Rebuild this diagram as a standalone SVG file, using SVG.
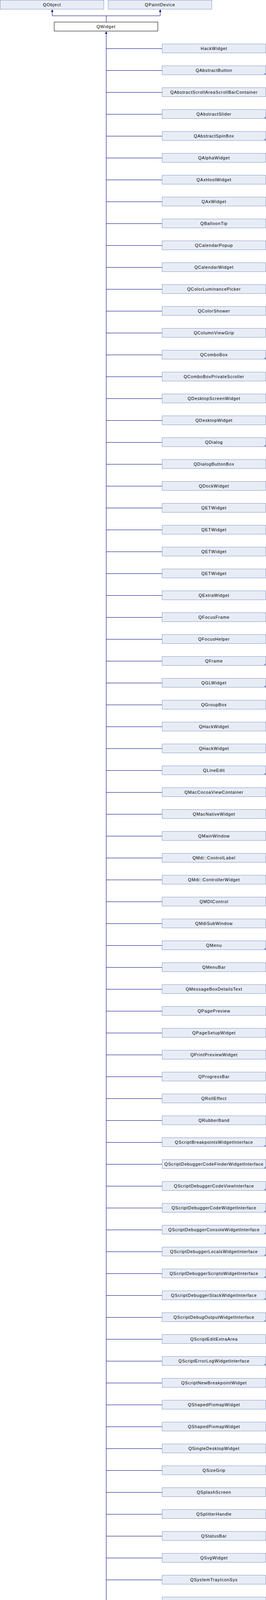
<svg xmlns="http://www.w3.org/2000/svg" xmlns:xlink="http://www.w3.org/1999/xlink" width="680" height="5064" viewBox="0 0 680 5064">
<style>
.box rect{fill:#E8ECF5;stroke:#849BCB;stroke-width:1}
.cur rect{fill:#FFFFFF;stroke:#000000;stroke-width:1}
text{font-family:"Liberation Sans",Arial,sans-serif;font-size:11px;letter-spacing:0.85px;fill:#000000;text-anchor:middle}
.c line,.c path{stroke:#000080;stroke-width:1;fill:none}
.c line.priv{stroke:#990000;stroke-dasharray:2,2}
.arr{fill:#000080}
.more{fill:#849BCB}
</style>
<defs>
<path id="arrow" class="arr" d="M0,0 L-3,6.5 L3,6.5 Z"/>
<path id="corner" class="more" d="M265.5,23.5 L259.5,23.5 L265.5,17.5 Z"/>
</defs>
<g id="connectors" class="c">
<path d="M271.5,56 V40.5 M133.5,40.5 H409.5 M133.5,40.5 V29 M409.5,40.5 V29"/>
<use xlink:href="#arrow" x="133.5" y="24"/>
<use xlink:href="#arrow" x="409.5" y="24"/>
<line x1="271.5" y1="85" x2="271.5" y2="5053"/>
<use xlink:href="#arrow" x="271.5" y="80"/>
<line x1="271.5" y1="124.5" x2="414" y2="124.5"/>
<line x1="271.5" y1="180.5" x2="414" y2="180.5"/>
<line x1="271.5" y1="236.5" x2="414" y2="236.5"/>
<line x1="271.5" y1="292.5" x2="414" y2="292.5"/>
<line x1="271.5" y1="348.5" x2="414" y2="348.5"/>
<line x1="271.5" y1="404.5" x2="414" y2="404.5"/>
<line x1="271.5" y1="460.5" x2="414" y2="460.5"/>
<line x1="271.5" y1="516.5" x2="414" y2="516.5"/>
<line x1="271.5" y1="572.5" x2="414" y2="572.5"/>
<line x1="271.5" y1="628.5" x2="414" y2="628.5"/>
<line x1="271.5" y1="684.5" x2="414" y2="684.5"/>
<line x1="271.5" y1="740.5" x2="414" y2="740.5"/>
<line x1="271.5" y1="796.5" x2="414" y2="796.5"/>
<line x1="271.5" y1="852.5" x2="414" y2="852.5"/>
<line x1="271.5" y1="908.5" x2="414" y2="908.5"/>
<line x1="271.5" y1="964.5" x2="414" y2="964.5"/>
<line x1="271.5" y1="1020.5" x2="414" y2="1020.5"/>
<line x1="271.5" y1="1076.5" x2="414" y2="1076.5"/>
<line x1="271.5" y1="1132.5" x2="414" y2="1132.5"/>
<line x1="271.5" y1="1188.5" x2="414" y2="1188.5"/>
<line x1="271.5" y1="1244.5" x2="414" y2="1244.5"/>
<line x1="271.5" y1="1300.5" x2="414" y2="1300.5"/>
<line x1="271.5" y1="1356.5" x2="414" y2="1356.5"/>
<line x1="271.5" y1="1412.5" x2="414" y2="1412.5"/>
<line x1="271.5" y1="1468.5" x2="414" y2="1468.5"/>
<line x1="271.5" y1="1524.5" x2="414" y2="1524.5"/>
<line x1="271.5" y1="1580.5" x2="414" y2="1580.5"/>
<line x1="271.5" y1="1636.5" x2="414" y2="1636.5"/>
<line x1="271.5" y1="1692.5" x2="414" y2="1692.5"/>
<line x1="271.5" y1="1748.5" x2="414" y2="1748.5"/>
<line x1="271.5" y1="1804.5" x2="414" y2="1804.5"/>
<line x1="271.5" y1="1860.5" x2="414" y2="1860.5"/>
<line x1="271.5" y1="1916.5" x2="414" y2="1916.5"/>
<line x1="271.5" y1="1972.5" x2="414" y2="1972.5"/>
<line x1="271.5" y1="2028.5" x2="414" y2="2028.5"/>
<line x1="271.5" y1="2084.5" x2="414" y2="2084.5"/>
<line x1="271.5" y1="2140.5" x2="414" y2="2140.5"/>
<line x1="271.5" y1="2196.5" x2="414" y2="2196.5"/>
<line x1="271.5" y1="2252.5" x2="414" y2="2252.5"/>
<line x1="271.5" y1="2308.5" x2="414" y2="2308.5"/>
<line x1="271.5" y1="2364.5" x2="414" y2="2364.5"/>
<line x1="271.5" y1="2420.5" x2="414" y2="2420.5"/>
<line x1="271.5" y1="2476.5" x2="414" y2="2476.5"/>
<line x1="271.5" y1="2532.5" x2="414" y2="2532.5"/>
<line x1="271.5" y1="2588.5" x2="414" y2="2588.5"/>
<line x1="271.5" y1="2644.5" x2="414" y2="2644.5"/>
<line x1="271.5" y1="2700.5" x2="414" y2="2700.5"/>
<line x1="271.5" y1="2756.5" x2="414" y2="2756.5"/>
<line x1="271.5" y1="2812.5" x2="414" y2="2812.5"/>
<line x1="271.5" y1="2868.5" x2="414" y2="2868.5"/>
<line x1="271.5" y1="2924.5" x2="414" y2="2924.5"/>
<line x1="271.5" y1="2980.5" x2="414" y2="2980.5"/>
<line x1="271.5" y1="3036.5" x2="414" y2="3036.5"/>
<line x1="271.5" y1="3092.5" x2="414" y2="3092.5"/>
<line x1="271.5" y1="3148.5" x2="414" y2="3148.5"/>
<line x1="271.5" y1="3204.5" x2="414" y2="3204.5"/>
<line x1="271.5" y1="3260.5" x2="414" y2="3260.5"/>
<line x1="271.5" y1="3316.5" x2="414" y2="3316.5"/>
<line x1="271.5" y1="3372.5" x2="414" y2="3372.5"/>
<line x1="271.5" y1="3428.5" x2="414" y2="3428.5"/>
<line x1="271.5" y1="3484.5" x2="414" y2="3484.5"/>
<line x1="271.5" y1="3540.5" x2="414" y2="3540.5"/>
<line x1="271.5" y1="3596.5" x2="414" y2="3596.5"/>
<line x1="271.5" y1="3652.5" x2="414" y2="3652.5"/>
<line x1="271.5" y1="3708.5" x2="414" y2="3708.5"/>
<line x1="271.5" y1="3764.5" x2="414" y2="3764.5"/>
<line x1="271.5" y1="3820.5" x2="414" y2="3820.5"/>
<line x1="271.5" y1="3876.5" x2="414" y2="3876.5"/>
<line x1="271.5" y1="3932.5" x2="414" y2="3932.5"/>
<line x1="271.5" y1="3988.5" x2="414" y2="3988.5"/>
<line x1="271.5" y1="4044.5" x2="414" y2="4044.5"/>
<line class="priv" x1="272" y1="4100.5" x2="414" y2="4100.5"/>
<line class="priv" x1="272" y1="4156.5" x2="414" y2="4156.5"/>
<line x1="271.5" y1="4212.5" x2="414" y2="4212.5"/>
<line x1="271.5" y1="4268.5" x2="414" y2="4268.5"/>
<line x1="271.5" y1="4324.5" x2="414" y2="4324.5"/>
<line x1="271.5" y1="4380.5" x2="414" y2="4380.5"/>
<line x1="271.5" y1="4436.5" x2="414" y2="4436.5"/>
<line x1="271.5" y1="4492.5" x2="414" y2="4492.5"/>
<line x1="271.5" y1="4548.5" x2="414" y2="4548.5"/>
<line x1="271.5" y1="4604.5" x2="414" y2="4604.5"/>
<line x1="271.5" y1="4660.5" x2="414" y2="4660.5"/>
<line x1="271.5" y1="4716.5" x2="414" y2="4716.5"/>
<line x1="271.5" y1="4772.5" x2="414" y2="4772.5"/>
<line x1="271.5" y1="4828.5" x2="414" y2="4828.5"/>
<line x1="271.5" y1="4884.5" x2="414" y2="4884.5"/>
<line x1="271.5" y1="4940.5" x2="414" y2="4940.5"/>
<line x1="271.5" y1="4996.5" x2="414" y2="4996.5"/>
<line x1="271" y1="5052.5" x2="414" y2="5052.5"/>
</g>
<g id="QObject" class="box" transform="translate(0,0)"><rect x="0.5" y="0.5" width="265" height="23"/><text x="133" y="16">QObject</text></g>
<g id="QPaintDevice" class="box" transform="translate(276,0)"><rect x="0.5" y="0.5" width="265" height="23"/><text x="133" y="16">QPaintDevice</text></g>
<g id="QWidget" class="cur" transform="translate(138,56)"><rect x="0.5" y="0.5" width="265" height="23"/><text x="133" y="16">QWidget</text></g>
<g id="n0" class="box" transform="translate(414,112)"><rect x="0.5" y="0.5" width="265" height="23"/><text x="133" y="16">HackWidget</text></g>
<g id="n1" class="box" transform="translate(414,168)"><rect x="0.5" y="0.5" width="265" height="23"/><use xlink:href="#corner"/><text x="133" y="16">QAbstractButton</text></g>
<g id="n2" class="box" transform="translate(414,224)"><rect x="0.5" y="0.5" width="265" height="23"/><text x="133" y="16">QAbstractScrollAreaScrollBarContainer</text></g>
<g id="n3" class="box" transform="translate(414,280)"><rect x="0.5" y="0.5" width="265" height="23"/><use xlink:href="#corner"/><text x="133" y="16">QAbstractSlider</text></g>
<g id="n4" class="box" transform="translate(414,336)"><rect x="0.5" y="0.5" width="265" height="23"/><use xlink:href="#corner"/><text x="133" y="16">QAbstractSpinBox</text></g>
<g id="n5" class="box" transform="translate(414,392)"><rect x="0.5" y="0.5" width="265" height="23"/><text x="133" y="16">QAlphaWidget</text></g>
<g id="n6" class="box" transform="translate(414,448)"><rect x="0.5" y="0.5" width="265" height="23"/><text x="133" y="16">QAxHostWidget</text></g>
<g id="n7" class="box" transform="translate(414,504)"><rect x="0.5" y="0.5" width="265" height="23"/><text x="133" y="16">QAxWidget</text></g>
<g id="n8" class="box" transform="translate(414,560)"><rect x="0.5" y="0.5" width="265" height="23"/><text x="133" y="16">QBalloonTip</text></g>
<g id="n9" class="box" transform="translate(414,616)"><rect x="0.5" y="0.5" width="265" height="23"/><text x="133" y="16">QCalendarPopup</text></g>
<g id="n10" class="box" transform="translate(414,672)"><rect x="0.5" y="0.5" width="265" height="23"/><text x="133" y="16">QCalendarWidget</text></g>
<g id="n11" class="box" transform="translate(414,728)"><rect x="0.5" y="0.5" width="265" height="23"/><text x="133" y="16">QColorLuminancePicker</text></g>
<g id="n12" class="box" transform="translate(414,784)"><rect x="0.5" y="0.5" width="265" height="23"/><text x="133" y="16">QColorShower</text></g>
<g id="n13" class="box" transform="translate(414,840)"><rect x="0.5" y="0.5" width="265" height="23"/><text x="133" y="16">QColumnViewGrip</text></g>
<g id="n14" class="box" transform="translate(414,896)"><rect x="0.5" y="0.5" width="265" height="23"/><use xlink:href="#corner"/><text x="133" y="16">QComboBox</text></g>
<g id="n15" class="box" transform="translate(414,952)"><rect x="0.5" y="0.5" width="265" height="23"/><text x="133" y="16">QComboBoxPrivateScroller</text></g>
<g id="n16" class="box" transform="translate(414,1008)"><rect x="0.5" y="0.5" width="265" height="23"/><text x="133" y="16">QDesktopScreenWidget</text></g>
<g id="n17" class="box" transform="translate(414,1064)"><rect x="0.5" y="0.5" width="265" height="23"/><text x="133" y="16">QDesktopWidget</text></g>
<g id="n18" class="box" transform="translate(414,1120)"><rect x="0.5" y="0.5" width="265" height="23"/><use xlink:href="#corner"/><text x="133" y="16">QDialog</text></g>
<g id="n19" class="box" transform="translate(414,1176)"><rect x="0.5" y="0.5" width="265" height="23"/><text x="133" y="16">QDialogButtonBox</text></g>
<g id="n20" class="box" transform="translate(414,1232)"><rect x="0.5" y="0.5" width="265" height="23"/><text x="133" y="16">QDockWidget</text></g>
<g id="n21" class="box" transform="translate(414,1288)"><rect x="0.5" y="0.5" width="265" height="23"/><text x="133" y="16">QETWidget</text></g>
<g id="n22" class="box" transform="translate(414,1344)"><rect x="0.5" y="0.5" width="265" height="23"/><text x="133" y="16">QETWidget</text></g>
<g id="n23" class="box" transform="translate(414,1400)"><rect x="0.5" y="0.5" width="265" height="23"/><text x="133" y="16">QETWidget</text></g>
<g id="n24" class="box" transform="translate(414,1456)"><rect x="0.5" y="0.5" width="265" height="23"/><text x="133" y="16">QETWidget</text></g>
<g id="n25" class="box" transform="translate(414,1512)"><rect x="0.5" y="0.5" width="265" height="23"/><text x="133" y="16">QExtraWidget</text></g>
<g id="n26" class="box" transform="translate(414,1568)"><rect x="0.5" y="0.5" width="265" height="23"/><text x="133" y="16">QFocusFrame</text></g>
<g id="n27" class="box" transform="translate(414,1624)"><rect x="0.5" y="0.5" width="265" height="23"/><text x="133" y="16">QFocusHelper</text></g>
<g id="n28" class="box" transform="translate(414,1680)"><rect x="0.5" y="0.5" width="265" height="23"/><use xlink:href="#corner"/><text x="133" y="16">QFrame</text></g>
<g id="n29" class="box" transform="translate(414,1736)"><rect x="0.5" y="0.5" width="265" height="23"/><use xlink:href="#corner"/><text x="133" y="16">QGLWidget</text></g>
<g id="n30" class="box" transform="translate(414,1792)"><rect x="0.5" y="0.5" width="265" height="23"/><text x="133" y="16">QGroupBox</text></g>
<g id="n31" class="box" transform="translate(414,1848)"><rect x="0.5" y="0.5" width="265" height="23"/><text x="133" y="16">QHackWidget</text></g>
<g id="n32" class="box" transform="translate(414,1904)"><rect x="0.5" y="0.5" width="265" height="23"/><text x="133" y="16">QHackWidget</text></g>
<g id="n33" class="box" transform="translate(414,1960)"><rect x="0.5" y="0.5" width="265" height="23"/><use xlink:href="#corner"/><text x="133" y="16">QLineEdit</text></g>
<g id="n34" class="box" transform="translate(414,2016)"><rect x="0.5" y="0.5" width="265" height="23"/><text x="133" y="16">QMacCocoaViewContainer</text></g>
<g id="n35" class="box" transform="translate(414,2072)"><rect x="0.5" y="0.5" width="265" height="23"/><text x="133" y="16">QMacNativeWidget</text></g>
<g id="n36" class="box" transform="translate(414,2128)"><rect x="0.5" y="0.5" width="265" height="23"/><text x="133" y="16">QMainWindow</text></g>
<g id="n37" class="box" transform="translate(414,2184)"><rect x="0.5" y="0.5" width="265" height="23"/><text x="133" y="16">QMdi::ControlLabel</text></g>
<g id="n38" class="box" transform="translate(414,2240)"><rect x="0.5" y="0.5" width="265" height="23"/><text x="133" y="16">QMdi::ControllerWidget</text></g>
<g id="n39" class="box" transform="translate(414,2296)"><rect x="0.5" y="0.5" width="265" height="23"/><text x="133" y="16">QMDIControl</text></g>
<g id="n40" class="box" transform="translate(414,2352)"><rect x="0.5" y="0.5" width="265" height="23"/><text x="133" y="16">QMdiSubWindow</text></g>
<g id="n41" class="box" transform="translate(414,2408)"><rect x="0.5" y="0.5" width="265" height="23"/><use xlink:href="#corner"/><text x="133" y="16">QMenu</text></g>
<g id="n42" class="box" transform="translate(414,2464)"><rect x="0.5" y="0.5" width="265" height="23"/><text x="133" y="16">QMenuBar</text></g>
<g id="n43" class="box" transform="translate(414,2520)"><rect x="0.5" y="0.5" width="265" height="23"/><text x="133" y="16">QMessageBoxDetailsText</text></g>
<g id="n44" class="box" transform="translate(414,2576)"><rect x="0.5" y="0.5" width="265" height="23"/><text x="133" y="16">QPagePreview</text></g>
<g id="n45" class="box" transform="translate(414,2632)"><rect x="0.5" y="0.5" width="265" height="23"/><text x="133" y="16">QPageSetupWidget</text></g>
<g id="n46" class="box" transform="translate(414,2688)"><rect x="0.5" y="0.5" width="265" height="23"/><text x="133" y="16">QPrintPreviewWidget</text></g>
<g id="n47" class="box" transform="translate(414,2744)"><rect x="0.5" y="0.5" width="265" height="23"/><text x="133" y="16">QProgressBar</text></g>
<g id="n48" class="box" transform="translate(414,2800)"><rect x="0.5" y="0.5" width="265" height="23"/><text x="133" y="16">QRollEffect</text></g>
<g id="n49" class="box" transform="translate(414,2856)"><rect x="0.5" y="0.5" width="265" height="23"/><text x="133" y="16">QRubberBand</text></g>
<g id="n50" class="box" transform="translate(414,2912)"><rect x="0.5" y="0.5" width="265" height="23"/><use xlink:href="#corner"/><text x="133" y="16">QScriptBreakpointsWidgetInterface</text></g>
<g id="n51" class="box" transform="translate(414,2968)"><rect x="0.5" y="0.5" width="265" height="23"/><use xlink:href="#corner"/><text x="133" y="16">QScriptDebuggerCodeFinderWidgetInterface</text></g>
<g id="n52" class="box" transform="translate(414,3024)"><rect x="0.5" y="0.5" width="265" height="23"/><use xlink:href="#corner"/><text x="133" y="16">QScriptDebuggerCodeViewInterface</text></g>
<g id="n53" class="box" transform="translate(414,3080)"><rect x="0.5" y="0.5" width="265" height="23"/><use xlink:href="#corner"/><text x="133" y="16">QScriptDebuggerCodeWidgetInterface</text></g>
<g id="n54" class="box" transform="translate(414,3136)"><rect x="0.5" y="0.5" width="265" height="23"/><use xlink:href="#corner"/><text x="133" y="16">QScriptDebuggerConsoleWidgetInterface</text></g>
<g id="n55" class="box" transform="translate(414,3192)"><rect x="0.5" y="0.5" width="265" height="23"/><use xlink:href="#corner"/><text x="133" y="16">QScriptDebuggerLocalsWidgetInterface</text></g>
<g id="n56" class="box" transform="translate(414,3248)"><rect x="0.5" y="0.5" width="265" height="23"/><use xlink:href="#corner"/><text x="133" y="16">QScriptDebuggerScriptsWidgetInterface</text></g>
<g id="n57" class="box" transform="translate(414,3304)"><rect x="0.5" y="0.5" width="265" height="23"/><use xlink:href="#corner"/><text x="133" y="16">QScriptDebuggerStackWidgetInterface</text></g>
<g id="n58" class="box" transform="translate(414,3360)"><rect x="0.5" y="0.5" width="265" height="23"/><use xlink:href="#corner"/><text x="133" y="16">QScriptDebugOutputWidgetInterface</text></g>
<g id="n59" class="box" transform="translate(414,3416)"><rect x="0.5" y="0.5" width="265" height="23"/><text x="133" y="16">QScriptEditExtraArea</text></g>
<g id="n60" class="box" transform="translate(414,3472)"><rect x="0.5" y="0.5" width="265" height="23"/><use xlink:href="#corner"/><text x="133" y="16">QScriptErrorLogWidgetInterface</text></g>
<g id="n61" class="box" transform="translate(414,3528)"><rect x="0.5" y="0.5" width="265" height="23"/><text x="133" y="16">QScriptNewBreakpointWidget</text></g>
<g id="n62" class="box" transform="translate(414,3584)"><rect x="0.5" y="0.5" width="265" height="23"/><text x="133" y="16">QShapedPixmapWidget</text></g>
<g id="n63" class="box" transform="translate(414,3640)"><rect x="0.5" y="0.5" width="265" height="23"/><text x="133" y="16">QShapedPixmapWidget</text></g>
<g id="n64" class="box" transform="translate(414,3696)"><rect x="0.5" y="0.5" width="265" height="23"/><text x="133" y="16">QSingleDesktopWidget</text></g>
<g id="n65" class="box" transform="translate(414,3752)"><rect x="0.5" y="0.5" width="265" height="23"/><text x="133" y="16">QSizeGrip</text></g>
<g id="n66" class="box" transform="translate(414,3808)"><rect x="0.5" y="0.5" width="265" height="23"/><text x="133" y="16">QSplashScreen</text></g>
<g id="n67" class="box" transform="translate(414,3864)"><rect x="0.5" y="0.5" width="265" height="23"/><text x="133" y="16">QSplitterHandle</text></g>
<g id="n68" class="box" transform="translate(414,3920)"><rect x="0.5" y="0.5" width="265" height="23"/><text x="133" y="16">QStatusBar</text></g>
<g id="n69" class="box" transform="translate(414,3976)"><rect x="0.5" y="0.5" width="265" height="23"/><text x="133" y="16">QSvgWidget</text></g>
<g id="n70" class="box" transform="translate(414,4032)"><rect x="0.5" y="0.5" width="265" height="23"/><text x="133" y="16">QSystemTrayIconSys</text></g>
<g id="n71" class="box" transform="translate(414,4088)"><rect x="0.5" y="0.5" width="265" height="23"/><text x="133" y="16">QSystemTrayIconSys</text></g>
<g id="n72" class="box" transform="translate(414,4144)"><rect x="0.5" y="0.5" width="265" height="23"/><text x="133" y="16">QSystemTrayIconSys</text></g>
<g id="n73" class="box" transform="translate(414,4200)"><rect x="0.5" y="0.5" width="265" height="23"/><use xlink:href="#corner"/><text x="133" y="16">QTabBar</text></g>
<g id="n74" class="box" transform="translate(414,4256)"><rect x="0.5" y="0.5" width="265" height="23"/><text x="133" y="16">QTabWidget</text></g>
<g id="n75" class="box" transform="translate(414,4312)"><rect x="0.5" y="0.5" width="265" height="23"/><text x="133" y="16">QtFriendlyLayoutWidget</text></g>
<g id="n76" class="box" transform="translate(414,4368)"><rect x="0.5" y="0.5" width="265" height="23"/><use xlink:href="#corner"/><text x="133" y="16">QToolBar</text></g>
<g id="n77" class="box" transform="translate(414,4424)"><rect x="0.5" y="0.5" width="265" height="23"/><text x="133" y="16">QToolBarSeparator</text></g>
<g id="n78" class="box" transform="translate(414,4480)"><rect x="0.5" y="0.5" width="265" height="23"/><use xlink:href="#corner"/><text x="133" y="16">QWellArray</text></g>
<g id="n79" class="box" transform="translate(414,4536)"><rect x="0.5" y="0.5" width="265" height="23"/><text x="133" y="16">QWhatsThat</text></g>
<g id="n80" class="box" transform="translate(414,4592)"><rect x="0.5" y="0.5" width="265" height="23"/><text x="133" y="16">QWizardAntiFlickerWidget</text></g>
<g id="n81" class="box" transform="translate(414,4648)"><rect x="0.5" y="0.5" width="265" height="23"/><use xlink:href="#corner"/><text x="133" y="16">QWizardHeader</text></g>
<g id="n82" class="box" transform="translate(414,4704)"><rect x="0.5" y="0.5" width="265" height="23"/><text x="133" y="16">QWizardPage</text></g>
<g id="n83" class="box" transform="translate(414,4760)"><rect x="0.5" y="0.5" width="265" height="23"/><text x="133" y="16">QWorkspace</text></g>
<g id="n84" class="box" transform="translate(414,4816)"><rect x="0.5" y="0.5" width="265" height="23"/><text x="133" y="16">QWorkspaceChild</text></g>
<g id="n85" class="box" transform="translate(414,4872)"><rect x="0.5" y="0.5" width="265" height="23"/><text x="133" y="16">QWorkspaceTitleBar</text></g>
<g id="n86" class="box" transform="translate(414,4928)"><rect x="0.5" y="0.5" width="265" height="23"/><text x="133" y="16">QWSEmbedWidget</text></g>
<g id="n87" class="box" transform="translate(414,4984)"><rect x="0.5" y="0.5" width="265" height="23"/><text x="133" y="16">QX11EmbedContainer</text></g>
<g id="n88" class="box" transform="translate(414,5040)"><rect x="0.5" y="0.5" width="265" height="23"/><text x="133" y="16">QX11EmbedWidget</text></g>
</svg>
